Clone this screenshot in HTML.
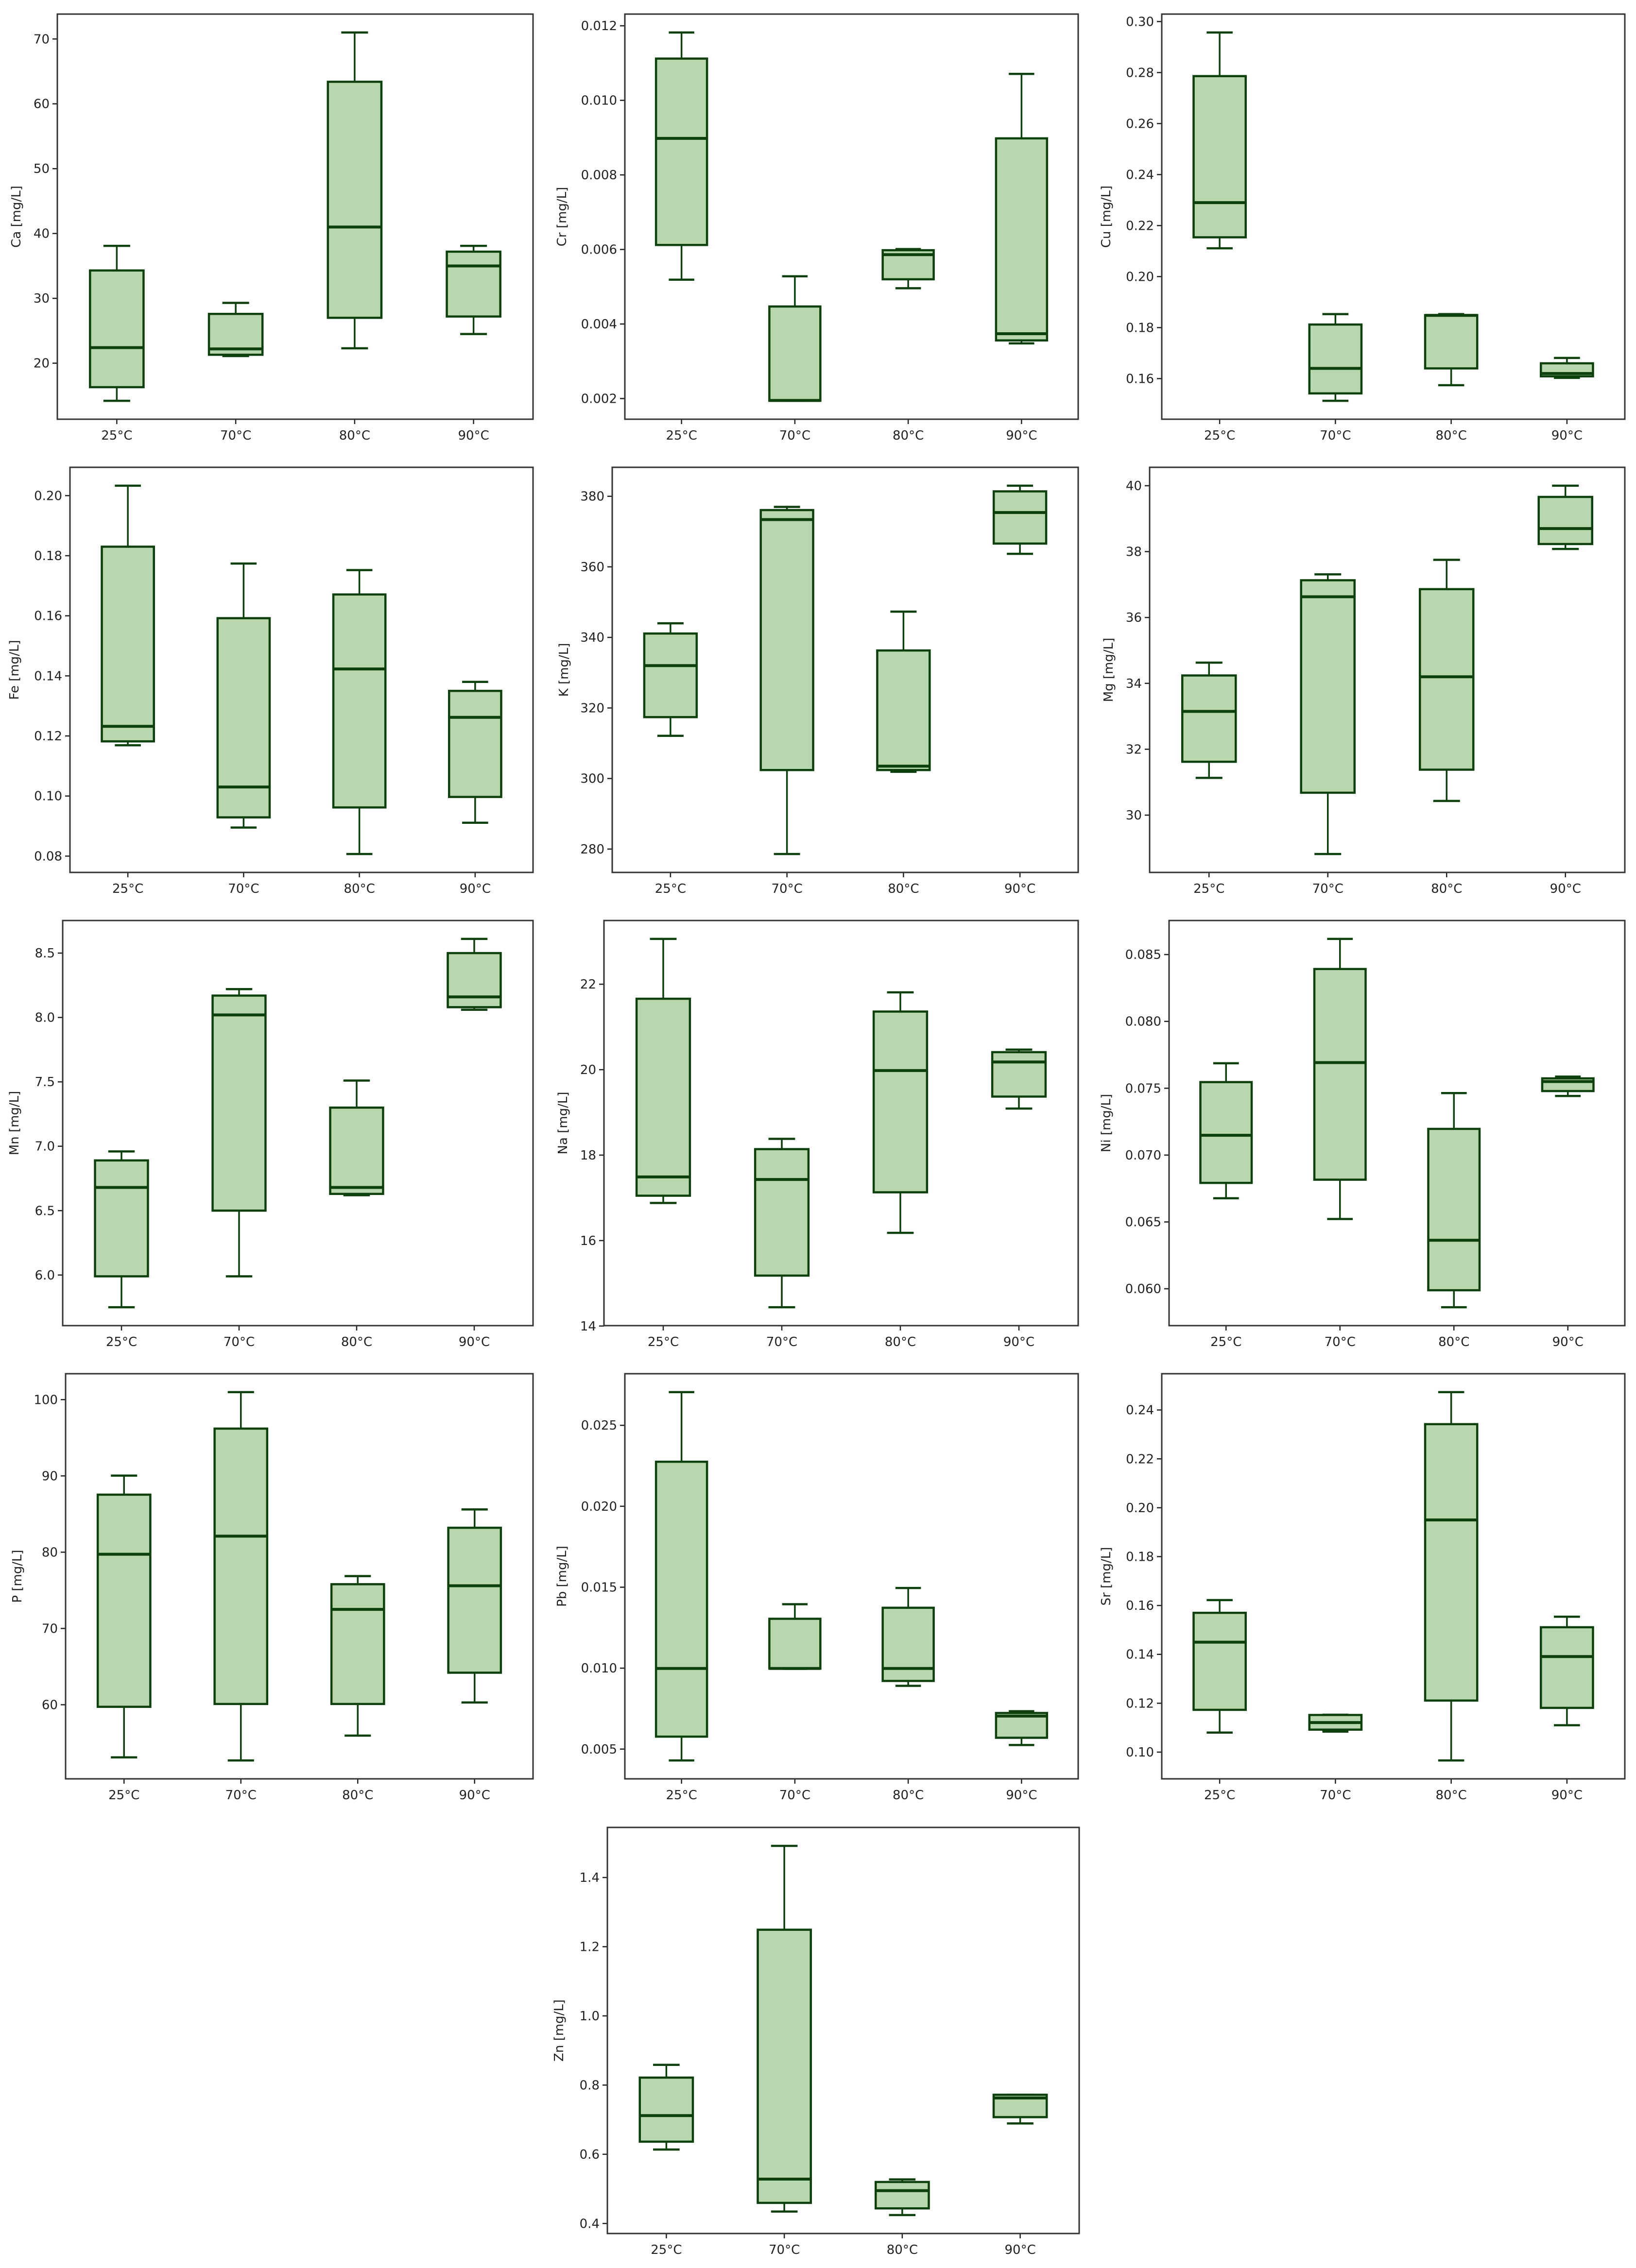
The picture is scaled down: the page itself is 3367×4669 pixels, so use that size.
<!DOCTYPE html>
<html><head><meta charset="utf-8"><style>
html,body{margin:0;padding:0;background:#fff;}
svg{display:block;font-family:"DejaVu Sans","Liberation Sans",sans-serif;}
</style></head><body>
<svg id="fig" width="3367" height="4669" viewBox="0 0 3367 4669" xmlns="http://www.w3.org/2000/svg"></svg>
<script>
const categories = ["25°C","70°C","80°C","90°C"];
// each entry: [min, q1, median, q3, max] per category
const caValues = [[14.2,16.3,22.4,34.3,38.1],[21.1,21.3,22.2,27.6,29.3],[22.3,27.0,41.0,63.4,71.0],[24.5,27.2,35.0,37.2,38.1]];
const crValues = [[0.00519,0.00612,0.00898,0.01112,0.01182],[0.00194,0.00194,0.00195,0.00447,0.00528],[0.00496,0.00520,0.00586,0.00598,0.00601],[0.00348,0.00356,0.00374,0.00898,0.01071]];
const cuValues = [[0.2111,0.2154,0.2290,0.2786,0.2957],[0.1513,0.1542,0.1640,0.1812,0.1853],[0.1574,0.1640,0.1848,0.1849,0.1853],[0.1603,0.1609,0.1620,0.1660,0.1681]];
const feValues = [[0.1169,0.1182,0.1232,0.1830,0.2033],[0.0895,0.0929,0.1030,0.1592,0.1774],[0.0807,0.0962,0.1423,0.1671,0.1752],[0.0911,0.0997,0.1262,0.1350,0.1380]];
const kValues = [[312.1,317.4,332.0,341.1,344.0],[278.6,302.4,373.4,376.1,377.0],[301.9,302.4,303.5,336.3,347.3],[363.7,366.6,375.4,381.4,383.0]];
const mgValues = [[31.13,31.62,33.15,34.24,34.63],[28.82,30.68,36.63,37.13,37.31],[30.43,31.38,34.20,36.86,37.75],[38.08,38.23,38.70,39.66,40.0]];
const mnValues = [[5.75,5.99,6.68,6.89,6.96],[5.99,6.50,8.02,8.17,8.22],[6.62,6.63,6.68,7.30,7.51],[8.06,8.08,8.16,8.50,8.61]];
const naValues = [[16.88,17.05,17.49,21.66,23.06],[14.44,15.18,17.43,18.14,18.38],[16.18,17.13,19.98,21.36,21.81],[19.09,19.37,20.18,20.41,20.47]];
const niValues = [[0.06677,0.06792,0.07148,0.07546,0.07687],[0.06522,0.06816,0.07692,0.08392,0.08617],[0.05862,0.05989,0.06363,0.07196,0.07464],[0.07442,0.07479,0.07550,0.07574,0.07587]];
const pValues = [[53.1,59.73,79.73,87.54,90.04],[52.7,60.1,82.1,96.2,100.98],[55.95,60.1,72.5,75.8,76.86],[60.3,64.2,75.6,83.2,85.6]];
const pbValues = [[0.00430,0.00577,0.00998,0.02275,0.02705],[0.00996,0.00997,0.00998,0.01305,0.01395],[0.00891,0.00921,0.00998,0.01373,0.01495],[0.00525,0.00570,0.00704,0.00723,0.00734]];
const srValues = [[0.1080,0.1173,0.1450,0.1570,0.1622],[0.1084,0.1092,0.1121,0.1152,0.1153],[0.0966,0.1211,0.1950,0.2342,0.2473],[0.1110,0.1181,0.1391,0.1511,0.1554]];
const znValues = [[0.6137,0.6364,0.7118,0.8216,0.8585],[0.4344,0.4595,0.5282,1.249,1.4914],[0.4243,0.4436,0.4948,0.5199,0.5274],[0.6892,0.7073,0.7626,0.772,0.7720]];

const caTicks = [20,30,40,50,60,70];
const crTicks = [0.002,0.004,0.006,0.008,0.010,0.012];
const cuTicks = [0.16,0.18,0.20,0.22,0.24,0.26,0.28,0.30];
const feTicks = [0.08,0.10,0.12,0.14,0.16,0.18,0.20];
const kTicks = [280,300,320,340,360,380];
const mgTicks = [30,32,34,36,38,40];
const mnTicks = [6.0,6.5,7.0,7.5,8.0,8.5];
const naTicks = [14,16,18,20,22];
const niTicks = [0.060,0.065,0.070,0.075,0.080,0.085];
const pTicks = [60,70,80,90,100];
const pbTicks = [0.005,0.010,0.015,0.020,0.025];
const srTicks = [0.10,0.12,0.14,0.16,0.18,0.20,0.22,0.24];
const znTicks = [0.4,0.6,0.8,1.0,1.2,1.4];

const elementNames = ["Ca","Cr","Cu","Fe","K","Mg","Mn","Na","Ni","P","Pb","Sr","Zn"];
const elementValues = [caValues,crValues,cuValues,feValues,kValues,mgValues,mnValues,naValues,niValues,pValues,pbValues,srValues,znValues];
const elementTicks = [caTicks,crTicks,cuTicks,feTicks,kTicks,mgTicks,mnTicks,naTicks,niTicks,pTicks,pbTicks,srTicks,znTicks];
const tickDecimals = [0,3,2,2,0,0,1,0,3,0,3,2,1];

// layout (frame boxes)
const frames = [
 [118,29,1097,863],[1286,29,2219,863],[2391,29,3344,863],
 [144,962,1097,1796],[1260,962,2219,1796],[2366,962,3344,1796],
 [129,1895,1097,2729],[1243,1895,2219,2729],[2406,1895,3344,2729],
 [135,2828,1097,3662],[1286,2828,2219,3662],[2391,2828,3344,3662],
 [1250,3762,2221,4598]
];

const NS="http://www.w3.org/2000/svg";
const svg=document.getElementById('fig');
const EDGE="#0d400d", FILL="#b8d7ae";
function mk(tag,attrs,parent){const e=document.createElementNS(NS,tag);for(const k in attrs)e.setAttribute(k,attrs[k]);parent.appendChild(e);return e;}

elementNames.forEach((name,i)=>{
  const vals=elementValues[i], ticks=elementTicks[i], dec=tickDecimals[i];
  const [L,T,R,B]=frames[i];
  const key=name.toLowerCase();
  const g=mk('g',{},svg);
  
  
  let lo=Infinity,hi=-Infinity;
  vals.forEach(v=>{lo=Math.min(lo,v[0]);hi=Math.max(hi,v[4]);});
  const pad=(hi-lo)*0.05, y0=lo-pad, y1=hi+pad;
  const y=v=>B-(v-y0)/(y1-y0)*(B-T);
  const slot=(R-L)/4;
  const x=k=>L+slot*(k+0.5);
  const bw=slot*0.45, cw=bw*0.5;
  // y ticks
  let maxLen=0;
  ticks.forEach(t=>{
    const yy=y(t);
    const tk=mk('line',{x1:L-10,x2:L,y1:yy,y2:yy,stroke:'#222','stroke-width':2.5},g);
    
    
    const s=t.toFixed(dec); maxLen=Math.max(maxLen,s.length);
    const tx=mk('text',{x:L-16,y:yy+9,'text-anchor':'end','font-size':26,fill:'#222'},g);
    tx.textContent=s;
    
    
  });
  const lx=L-16-maxLen*15-30, ly=(T+B)/2;
  const yl=mk('text',{x:lx,y:ly,'text-anchor':'middle','font-size':26,fill:'#222',transform:`rotate(-90 ${lx} ${ly})`},g);
  yl.textContent=name+' [mg/L]';
  
  
  // boxes
  vals.forEach((v,k)=>{
    const cx=x(k);
    const bg=mk('g',{},g);
    
    
    mk('line',{x1:cx,x2:cx,y1:y(v[4]),y2:y(v[3]),stroke:EDGE,'stroke-width':3.5},bg);
    mk('line',{x1:cx,x2:cx,y1:y(v[1]),y2:y(v[0]),stroke:EDGE,'stroke-width':3.5},bg);
    mk('line',{x1:cx-cw/2,x2:cx+cw/2,y1:y(v[4]),y2:y(v[4]),stroke:EDGE,'stroke-width':4.5},bg);
    mk('line',{x1:cx-cw/2,x2:cx+cw/2,y1:y(v[0]),y2:y(v[0]),stroke:EDGE,'stroke-width':4.5},bg);
    mk('rect',{x:cx-bw/2,y:y(v[3]),width:bw,height:Math.max(1,y(v[1])-y(v[3])),fill:FILL,stroke:EDGE,'stroke-width':4.5},bg);
    mk('line',{x1:cx-bw/2,x2:cx+bw/2,y1:y(v[2]),y2:y(v[2]),stroke:EDGE,'stroke-width':6},bg);
    // x tick + label
    mk('line',{x1:cx,x2:cx,y1:B,y2:B+10,stroke:'#222','stroke-width':2.5},g);
    const xt=mk('text',{x:cx,y:B+42,'text-anchor':'middle','font-size':26,fill:'#222'},g);
    xt.textContent=categories[k];
    
    
  });
  const fr=mk('rect',{x:L,y:T,width:R-L,height:B-T,fill:'none',stroke:'#333','stroke-width':3},g);
  
  
});
</script>
</body></html>
